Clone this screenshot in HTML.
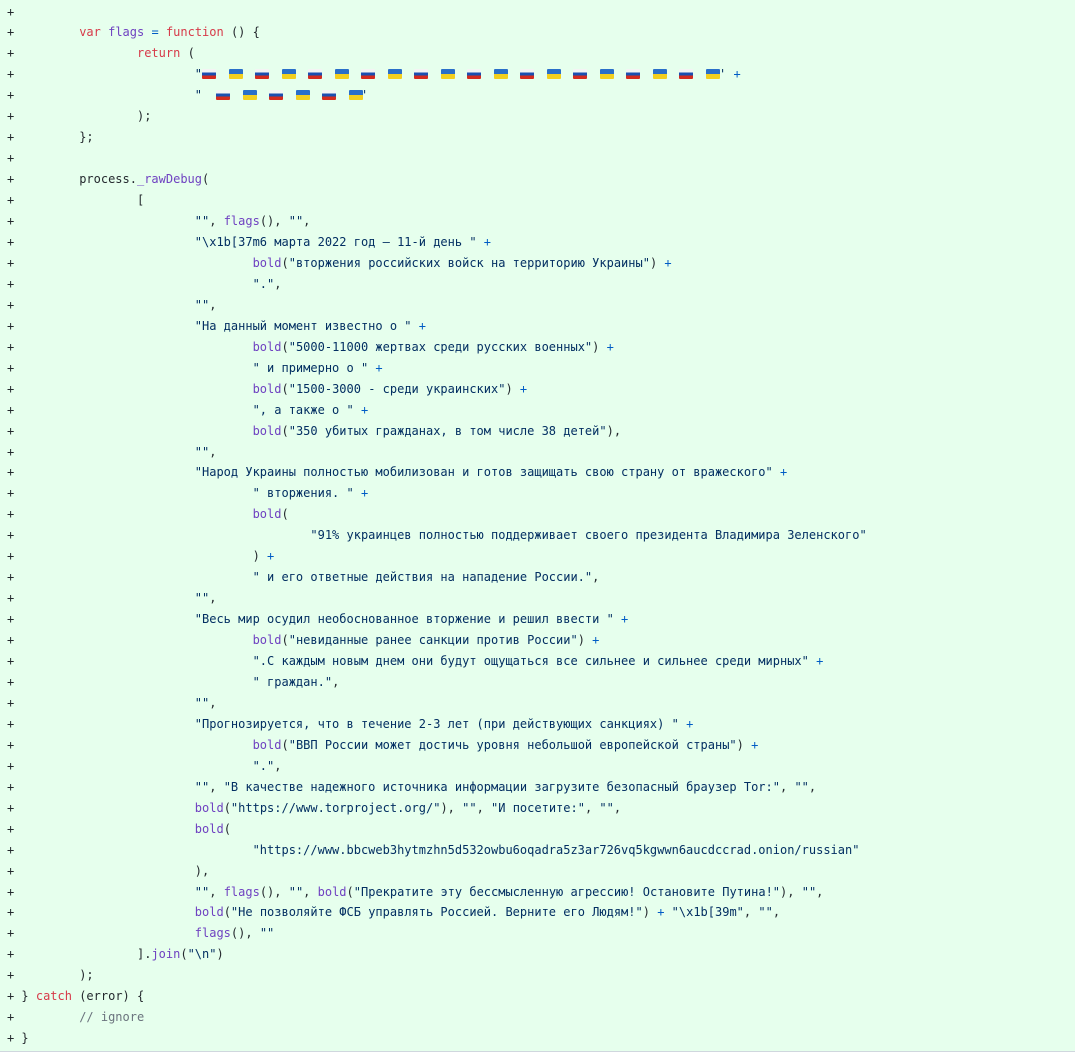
<!DOCTYPE html>
<html><head><meta charset="utf-8"><style>
html,body{margin:0;padding:0;background:#fff;}
#w{position:relative;width:1075px;height:1058px;overflow:hidden;background:#fff;}
#bg{position:absolute;left:0;top:0;width:1075px;height:1051px;background:#e6ffed;border-bottom:1px solid #d0d7de;}
.col{position:absolute;top:1.5px;font-family:"DejaVu Sans Mono","Liberation Mono",monospace;font-size:12px;line-height:20.96px;white-space:pre;color:#24292e;tab-size:8;-moz-tab-size:8;}
#p{left:7px;}
#c{left:21.4px;}
.k{color:#d73a49}.f{color:#6f42c1}.s{color:#032f62}.o{color:#005cc5}.c{color:#6a737d}
.fl{position:absolute;width:14px;height:10px;border-radius:1px;}
.r{background:linear-gradient(#f4f4f4 0 33%,#1c4fb0 33% 66%,#d52b1e 66%);}
.u{background:linear-gradient(#2a6fc9 0 50%,#f2cf1f 50%);}
</style></head><body><div id="w"><div id="bg"></div>
<div class="col" id="p">+
+
+
+
+
+
+
+
+
+
+
+
+
+
+
+
+
+
+
+
+
+
+
+
+
+
+
+
+
+
+
+
+
+
+
+
+
+
+
+
+
+
+
+
+
+
+
+
+
+</div>
<div class="col" id="c">
	<span class="k">var</span> <span class="f">flags</span> <span class="o">=</span> <span class="k">function</span> () {
		<span class="k">return</span> (
			<span class="s">"</span>
			<span class="s">"</span>
		);
	};

	process.<span class="f">_rawDebug</span>(
		[
			<span class="s">""</span>, <span class="f">flags</span>(), <span class="s">""</span>,
			<span class="s">"\x1b[37m6 марта 2022 год — 11-й день "</span> <span class="o">+</span>
				<span class="f">bold</span>(<span class="s">"вторжения российских войск на территорию Украины"</span>) <span class="o">+</span>
				<span class="s">"."</span>,
			<span class="s">""</span>,
			<span class="s">"На данный момент известно о "</span> <span class="o">+</span>
				<span class="f">bold</span>(<span class="s">"5000-11000 жертвах среди русских военных"</span>) <span class="o">+</span>
				<span class="s">" и примерно о "</span> <span class="o">+</span>
				<span class="f">bold</span>(<span class="s">"1500-3000 - среди украинских"</span>) <span class="o">+</span>
				<span class="s">", а также о "</span> <span class="o">+</span>
				<span class="f">bold</span>(<span class="s">"350 убитых гражданах, в том числе 38 детей"</span>),
			<span class="s">""</span>,
			<span class="s">"Народ Украины полностью мобилизован и готов защищать свою страну от вражеского"</span> <span class="o">+</span>
				<span class="s">" вторжения. "</span> <span class="o">+</span>
				<span class="f">bold</span>(
					<span class="s">"91% украинцев полностью поддерживает своего президента Владимира Зеленского"</span>
				) <span class="o">+</span>
				<span class="s">" и его ответные действия на нападение России."</span>,
			<span class="s">""</span>,
			<span class="s">"Весь мир осудил необоснованное вторжение и решил ввести "</span> <span class="o">+</span>
				<span class="f">bold</span>(<span class="s">"невиданные ранее санкции против России"</span>) <span class="o">+</span>
				<span class="s">".С каждым новым днем они будут ощущаться все сильнее и сильнее среди мирных"</span> <span class="o">+</span>
				<span class="s">" граждан."</span>,
			<span class="s">""</span>,
			<span class="s">"Прогнозируется, что в течение 2-3 лет (при действующих санкциях) "</span> <span class="o">+</span>
				<span class="f">bold</span>(<span class="s">"ВВП России может достичь уровня небольшой европейской страны"</span>) <span class="o">+</span>
				<span class="s">"."</span>,
			<span class="s">""</span>, <span class="s">"В качестве надежного источника информации загрузите безопасный браузер Tor:"</span>, <span class="s">""</span>,
			<span class="f">bold</span>(<span class="s">"https://www.torproject.org/"</span>), <span class="s">""</span>, <span class="s">"И посетите:"</span>, <span class="s">""</span>,
			<span class="f">bold</span>(
				<span class="s">"https://www.bbcweb3hytmzhn5d532owbu6oqadra5z3ar726vq5kgwwn6aucdccrad.onion/russian"</span>
			),
			<span class="s">""</span>, <span class="f">flags</span>(), <span class="s">""</span>, <span class="f">bold</span>(<span class="s">"Прекратите эту бессмысленную агрессию! Остановите Путина!"</span>), <span class="s">""</span>,
			<span class="f">bold</span>(<span class="s">"Не позволяйте ФСБ управлять Россией. Верните его Людям!"</span>) <span class="o">+</span> <span class="s">"\x1b[39m"</span>, <span class="s">""</span>,
			<span class="f">flags</span>(), <span class="s">""</span>
		].<span class="f">join</span>(<span class="s">"\n"</span>)
	);
} <span class="k">catch</span> (error) {
	<span class="c">// ignore</span>
}</div>
<div class="fl r" style="left:202px;top:69px"></div>
<div class="fl u" style="left:228.5px;top:69px"></div>
<div class="fl r" style="left:255px;top:69px"></div>
<div class="fl u" style="left:281.5px;top:69px"></div>
<div class="fl r" style="left:308px;top:69px"></div>
<div class="fl u" style="left:334.5px;top:69px"></div>
<div class="fl r" style="left:361px;top:69px"></div>
<div class="fl u" style="left:387.5px;top:69px"></div>
<div class="fl r" style="left:414px;top:69px"></div>
<div class="fl u" style="left:440.5px;top:69px"></div>
<div class="fl r" style="left:467px;top:69px"></div>
<div class="fl u" style="left:493.5px;top:69px"></div>
<div class="fl r" style="left:520px;top:69px"></div>
<div class="fl u" style="left:546.5px;top:69px"></div>
<div class="fl r" style="left:573px;top:69px"></div>
<div class="fl u" style="left:599.5px;top:69px"></div>
<div class="fl r" style="left:626px;top:69px"></div>
<div class="fl u" style="left:652.5px;top:69px"></div>
<div class="fl r" style="left:679px;top:69px"></div>
<div class="fl u" style="left:705.5px;top:69px"></div>
<div class="col" style="left:719px;top:64.4px"><span class="s">'</span> <span class="o">+</span></div>
<div class="fl r" style="left:216px;top:90px"></div>
<div class="fl u" style="left:242.5px;top:90px"></div>
<div class="fl r" style="left:269px;top:90px"></div>
<div class="fl u" style="left:295.5px;top:90px"></div>
<div class="fl r" style="left:322px;top:90px"></div>
<div class="fl u" style="left:348.5px;top:90px"></div>
<div class="col" style="left:361px;top:85.4px"><span class="s">'</span></div>
</div></body></html>
